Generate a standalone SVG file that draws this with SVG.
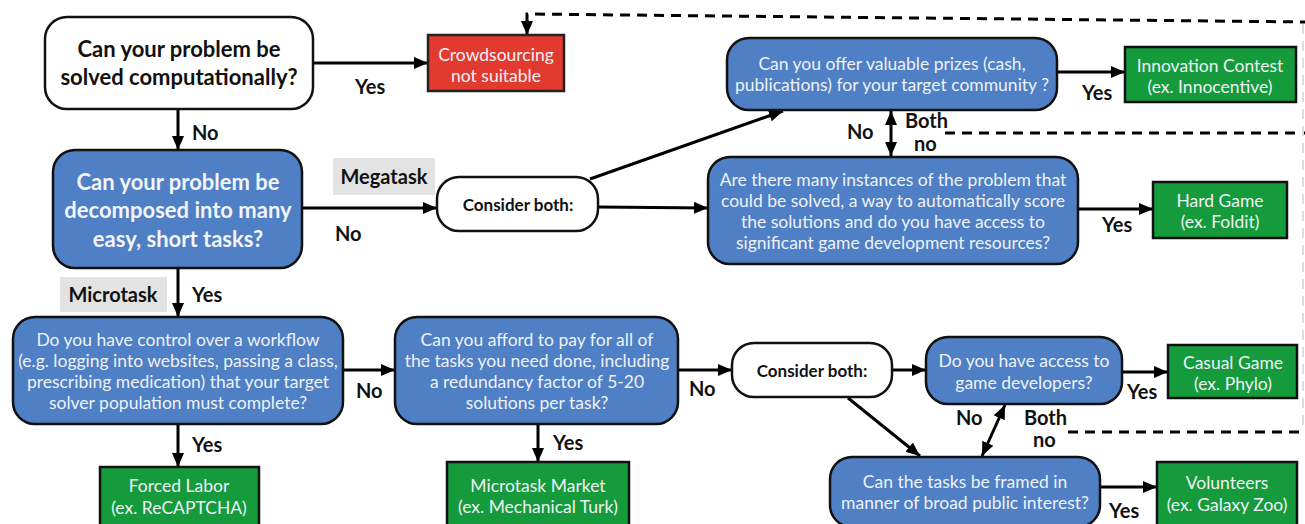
<svg xmlns="http://www.w3.org/2000/svg" width="1305" height="524" viewBox="0 0 1305 524">
<defs>
<marker id="ah" viewBox="0 0 14 12" refX="14" refY="6" markerWidth="14" markerHeight="12" markerUnits="userSpaceOnUse" orient="auto-start-reverse">
<path d="M0,0 L14,6 L0,12 z" fill="#000"/>
</marker>
<style>
.q{fill:#4f7fc4;stroke:#111;stroke-width:2.5}
.w{fill:#fff;stroke:#111;stroke-width:2.5}
.r{fill:#e23a2e;stroke:#222;stroke-width:2.5}
.g{fill:#159a3c;stroke:#111;stroke-width:2.5}
.tb{font-family:Lato,"Open Sans",sans-serif;font-weight:bold;font-size:22px;text-anchor:middle}
.t{font-family:Lato,"Open Sans",sans-serif;font-size:17.5px;text-anchor:middle;fill:#eef2f8}
.cb{font-family:Lato,"Open Sans",sans-serif;font-weight:bold;font-size:17px;text-anchor:middle;fill:#111}
.lab{font-family:Lato,"Open Sans",sans-serif;font-weight:bold;font-size:20px;fill:#111}
.c{fill:none;stroke:#000;stroke-width:3}
.d{fill:none;stroke:#000;stroke-width:3;stroke-dasharray:10 7}
.tag{fill:#e3e3e3}
</style>
</defs>

<g id="connectors">
<line class="c" x1="313" y1="63" x2="428" y2="63" marker-end="url(#ah)"/>
<line class="c" x1="178" y1="109" x2="178" y2="150" marker-end="url(#ah)"/>
<line class="c" x1="302" y1="208" x2="437" y2="208" marker-end="url(#ah)"/>
<line class="c" x1="590" y1="179" x2="783" y2="111" marker-end="url(#ah)"/>
<line class="c" x1="598" y1="207" x2="708" y2="208" marker-end="url(#ah)"/>
<line class="c" x1="891" y1="111" x2="891" y2="156" marker-start="url(#ah)" marker-end="url(#ah)"/>
<line class="c" x1="1057" y1="72" x2="1125" y2="72" marker-end="url(#ah)"/>
<line class="c" x1="1078" y1="209" x2="1153" y2="209" marker-end="url(#ah)"/>
<line class="c" x1="178" y1="268" x2="178" y2="317" marker-end="url(#ah)"/>
<line class="c" x1="343" y1="370" x2="395" y2="370" marker-end="url(#ah)"/>
<line class="c" x1="178" y1="424" x2="178" y2="467" marker-end="url(#ah)"/>
<line class="c" x1="538" y1="424" x2="538" y2="462" marker-end="url(#ah)"/>
<line class="c" x1="678" y1="370" x2="732" y2="370" marker-end="url(#ah)"/>
<line class="c" x1="892" y1="370" x2="926" y2="370" marker-end="url(#ah)"/>
<line class="c" x1="1122" y1="372" x2="1168" y2="372" marker-end="url(#ah)"/>
<line class="c" x1="848" y1="398" x2="920" y2="456" marker-end="url(#ah)"/>
<line class="c" x1="1005" y1="405" x2="982" y2="456" marker-start="url(#ah)" marker-end="url(#ah)"/>
<line class="c" x1="1100" y1="487" x2="1157" y2="487" marker-end="url(#ah)"/>
<path class="d" d="M1310,22 L527,14 L527,22"/>
<line x1="527" y1="20" x2="527" y2="35" stroke="#000" stroke-width="3" marker-end="url(#ah)"/>
<line class="d" x1="945" y1="133" x2="1310" y2="133"/>
<line class="d" x1="1068" y1="432" x2="1310" y2="432"/>
<line x1="1303" y1="24" x2="1303" y2="432" stroke="#ddd" stroke-width="2" stroke-dasharray="10 7"/>
</g>

<g id="n1">
<rect class="w" x="45" y="17" width="268" height="92" rx="22"/>
<text class="tb" x="179" y="57" fill="#111">Can your problem be</text>
<text class="tb" x="179" y="85" fill="#111">solved computationally?</text>
</g>

<g id="notsuitable">
<rect class="r" x="428" y="35" width="136" height="56"/>
<text class="t" x="496" y="61" fill="#fde">Crowdsourcing</text>
<text class="t" x="496" y="82">not suitable</text>
</g>

<g id="n2">
<rect class="q" x="53" y="150" width="249" height="118" rx="22"/>
<text class="tb" x="178" y="190" fill="#f2f4f8">Can your problem be</text>
<text class="tb" x="178" y="218" fill="#f2f4f8">decomposed into many</text>
<text class="tb" x="178" y="247" fill="#f2f4f8">easy, short tasks?</text>
</g>

<g id="consider1">
<rect class="w" x="437" y="177" width="161" height="54" rx="22"/>
<text class="cb" x="518" y="211">Consider both:</text>
</g>

<g id="prizes">
<rect class="q" x="727" y="38" width="330" height="72" rx="22"/>
<text class="t" x="892" y="70">Can you offer valuable prizes (cash,</text>
<text class="t" x="892" y="91">publications) for your target community ?</text>
</g>

<g id="innovation">
<rect class="g" x="1125" y="47" width="171" height="55"/>
<text class="t" x="1210" y="72">Innovation Contest</text>
<text class="t" x="1210" y="93">(ex. Innocentive)</text>
</g>

<g id="instances">
<rect class="q" x="708" y="157" width="370" height="107" rx="22"/>
<text class="t" x="893" y="186">Are there many instances of the problem that</text>
<text class="t" x="893" y="207">could be solved, a way to automatically score</text>
<text class="t" x="893" y="228">the solutions and do you have access to</text>
<text class="t" x="893" y="249">significant game development resources?</text>
</g>

<g id="hardgame">
<rect class="g" x="1153" y="182" width="134" height="56"/>
<text class="t" x="1220" y="207">Hard Game</text>
<text class="t" x="1220" y="228">(ex. Foldit)</text>
</g>

<g id="n3">
<rect class="q" x="13" y="317" width="330" height="107" rx="22"/>
<text class="t" x="178" y="346">Do you have control over a workflow</text>
<text class="t" x="178" y="367">(e.g. logging into websites, passing a class,</text>
<text class="t" x="178" y="388">prescribing medication) that your target</text>
<text class="t" x="178" y="409">solver population must complete?</text>
</g>

<g id="n4">
<rect class="q" x="395" y="317" width="283" height="107" rx="22"/>
<text class="t" x="537" y="346">Can you afford to pay for all of</text>
<text class="t" x="537" y="367">the tasks you need done, including</text>
<text class="t" x="537" y="388">a redundancy factor of 5-20</text>
<text class="t" x="537" y="409">solutions per task?</text>
</g>

<g id="forced">
<rect class="g" x="100" y="467" width="159" height="62"/>
<text class="t" x="179" y="492">Forced Labor</text>
<text class="t" x="179" y="514">(ex. ReCAPTCHA)</text>
</g>

<g id="market">
<rect class="g" x="447" y="462" width="182" height="67"/>
<text class="t" x="538" y="492">Microtask Market</text>
<text class="t" x="538" y="513">(ex. Mechanical Turk)</text>
</g>

<g id="consider2">
<rect class="w" x="732" y="343" width="160" height="54" rx="22"/>
<text class="cb" x="812" y="377">Consider both:</text>
</g>

<g id="gamedev">
<rect class="q" x="926" y="337" width="196" height="67" rx="22"/>
<text class="t" x="1024" y="367">Do you have access to</text>
<text class="t" x="1024" y="389">game developers?</text>
</g>

<g id="casual">
<rect class="g" x="1168" y="345" width="129" height="53"/>
<text class="t" x="1233" y="369">Casual Game</text>
<text class="t" x="1233" y="390">(ex. Phylo)</text>
</g>

<g id="public">
<rect class="q" x="830" y="457" width="270" height="70" rx="22"/>
<text class="t" x="965" y="488">Can the tasks be framed in</text>
<text class="t" x="965" y="509">manner of broad public interest?</text>
</g>

<g id="volunteers">
<rect class="g" x="1157" y="462" width="140" height="67"/>
<text class="t" x="1227" y="489">Volunteers</text>
<text class="t" x="1227" y="511">(ex. Galaxy Zoo)</text>
</g>

<g id="labels">
<text class="lab" x="355" y="94">Yes</text>
<text class="lab" x="192" y="140">No</text>
<rect class="tag" x="333" y="158" width="102" height="37"/>
<text class="lab" x="384" y="184" text-anchor="middle">Megatask</text>
<text class="lab" x="335" y="241">No</text>
<rect class="tag" x="60" y="277" width="107" height="35"/>
<text class="lab" x="113" y="302" text-anchor="middle">Microtask</text>
<text class="lab" x="192" y="302">Yes</text>
<text class="lab" x="847" y="139">No</text>
<text class="lab" x="905" y="128">Both</text>
<text class="lab" x="914" y="151">no</text>
<text class="lab" x="1082" y="100">Yes</text>
<text class="lab" x="1102" y="232">Yes</text>
<text class="lab" x="356" y="398">No</text>
<text class="lab" x="192" y="452">Yes</text>
<text class="lab" x="553" y="450">Yes</text>
<text class="lab" x="689" y="396">No</text>
<text class="lab" x="1127" y="399">Yes</text>
<text class="lab" x="956" y="425">No</text>
<text class="lab" x="1024" y="425">Both</text>
<text class="lab" x="1033" y="447">no</text>
<text class="lab" x="1109" y="518">Yes</text>
</g>
</svg>
